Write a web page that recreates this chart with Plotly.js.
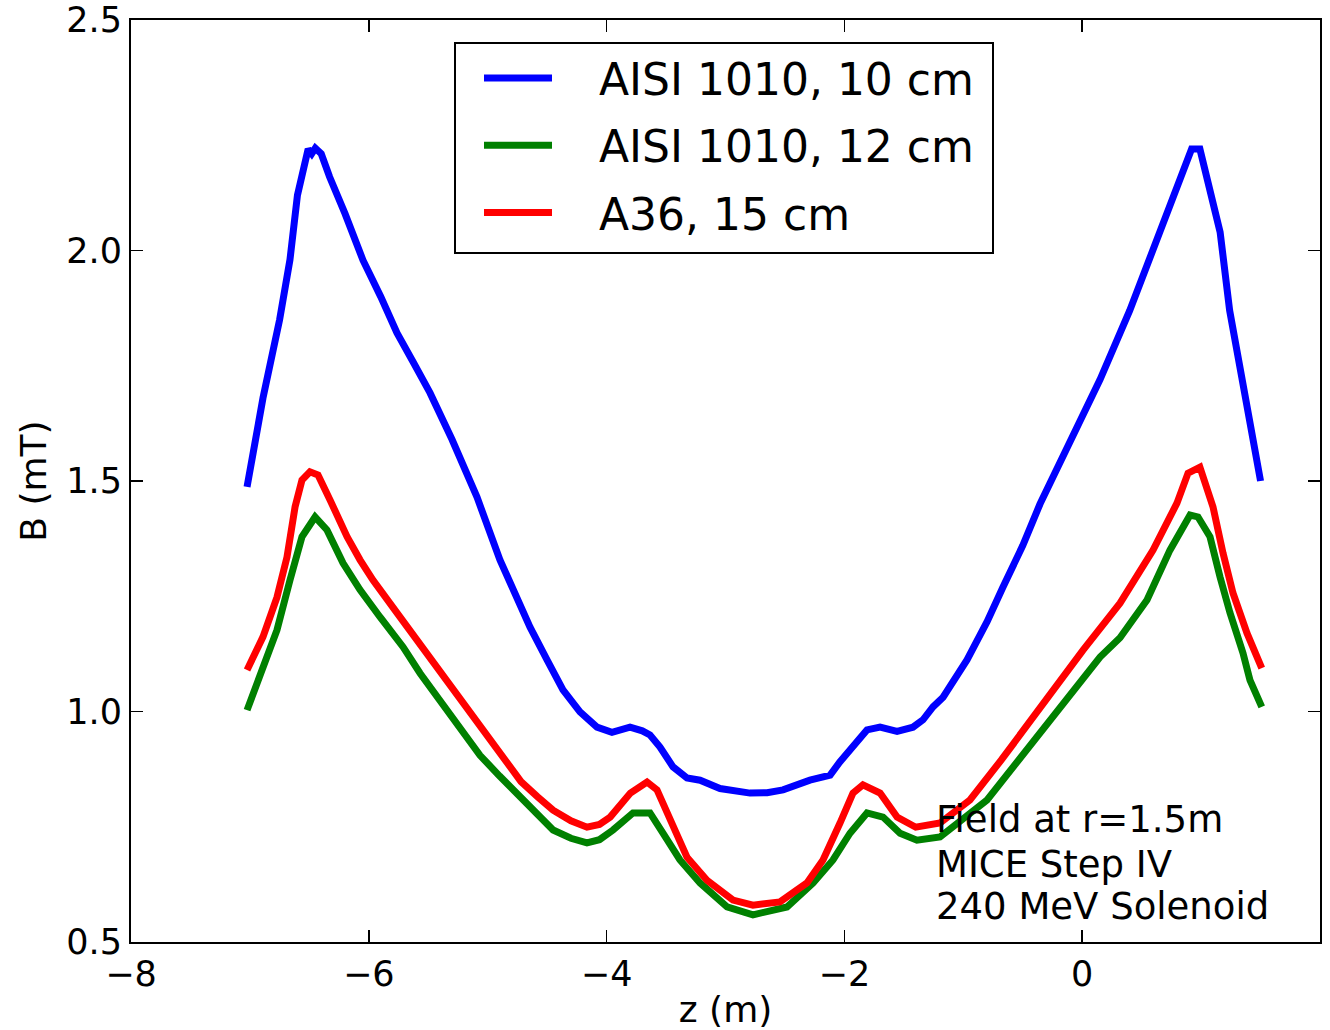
<!DOCTYPE html>
<html>
<head>
<meta charset="utf-8">
<script src="https://cdn.plot.ly/plotly-3.0.1.min.js"></script>
<style>html,body{margin:0;padding:0;background:#fff;}#chart{width:1330px;height:1030px;}</style>
</head>
<body>
<div id="chart"></div>
<script>
// Series: AISI 1010, 10 cm (blue)
const zBlue = [-7.024,-6.89,-6.75,-6.663,-6.60,-6.562,-6.51,-6.48,-6.45,-6.40,-6.33,-6.20,-6.049,-5.90,-5.763,-5.62,-5.485,-5.30,-5.09,-4.897,-4.787,-4.644,-4.501,-4.367,-4.224,-4.081,-3.955,-3.803,-3.70,-3.635,-3.551,-3.442,-3.324,-3.214,-3.046,-2.794,-2.65,-2.516,-2.29,-2.12,-2.04,-1.978,-1.81,-1.70,-1.557,-1.423,-1.339,-1.255,-1.17,-0.969,-0.80,-0.666,-0.50,-0.355,-0.10,0.15,0.40,0.66,0.82,0.92,0.99,1.07,1.16,1.24,1.37,1.50];
const bBlue = [1.487,1.68,1.85,1.98,2.12,2.17,2.22,2.21,2.222,2.21,2.16,2.08,1.979,1.90,1.821,1.755,1.691,1.59,1.465,1.329,1.264,1.183,1.112,1.047,0.999,0.966,0.955,0.966,0.958,0.949,0.923,0.880,0.856,0.851,0.833,0.823,0.824,0.830,0.851,0.862,0.89,0.910,0.960,0.966,0.957,0.966,0.982,1.010,1.031,1.112,1.195,1.27,1.36,1.45,1.59,1.72,1.87,2.04,2.15,2.22,2.22,2.14,2.04,1.87,1.68,1.50];
// Series: AISI 1010, 12 cm (green)
const zGreen = [-7.024,-6.915,-6.772,-6.663,-6.562,-6.452,-6.352,-6.217,-6.074,-5.906,-5.712,-5.569,-5.30,-5.065,-4.90,-4.728,-4.58,-4.45,-4.30,-4.165,-4.06,-3.946,-3.778,-3.635,-3.526,-3.383,-3.214,-2.987,-2.769,-2.483,-2.264,-2.096,-1.953,-1.81,-1.675,-1.532,-1.39,-1.196,-0.80,-0.271,0.15,0.318,0.545,0.738,0.907,0.974,1.075,1.159,1.243,1.352,1.411,1.51];
const bGreen = [1.003,1.075,1.177,1.285,1.379,1.422,1.394,1.322,1.264,1.205,1.140,1.083,0.99,0.905,0.86,0.815,0.775,0.743,0.725,0.715,0.722,0.743,0.780,0.780,0.736,0.678,0.628,0.576,0.559,0.576,0.628,0.678,0.736,0.780,0.771,0.736,0.721,0.728,0.808,0.982,1.118,1.16,1.242,1.350,1.426,1.422,1.379,1.292,1.214,1.127,1.068,1.01];
// Series: A36, 15 cm (red)
const zRed = [-7.024,-6.89,-6.772,-6.688,-6.62,-6.562,-6.495,-6.427,-6.326,-6.183,-6.074,-5.965,-5.763,-5.595,-5.401,-5.23,-5.065,-4.90,-4.72,-4.58,-4.45,-4.30,-4.165,-4.06,-3.97,-3.80,-3.66,-3.576,-3.467,-3.324,-3.156,-2.937,-2.769,-2.542,-2.315,-2.18,-2.037,-1.928,-1.844,-1.70,-1.557,-1.40,-1.196,-0.944,-0.68,-0.414,0.007,0.318,0.596,0.797,0.89,0.99,1.10,1.184,1.268,1.386,1.51];
const bRed = [1.09,1.162,1.248,1.335,1.444,1.502,1.52,1.513,1.459,1.379,1.329,1.285,1.214,1.155,1.083,1.025,0.966,0.905,0.848,0.815,0.786,0.763,0.749,0.755,0.771,0.823,0.847,0.830,0.765,0.684,0.634,0.591,0.580,0.587,0.628,0.678,0.758,0.823,0.841,0.823,0.771,0.749,0.758,0.808,0.895,0.988,1.133,1.235,1.350,1.452,1.517,1.530,1.444,1.344,1.257,1.170,1.094];

const seriesNames = ["AISI 1010, 10 cm","AISI 1010, 12 cm","A36, 15 cm"];
const seriesColors = ["#0000ff","#008000","#ff0000"];
const xTicks = [-8,-6,-4,-2,0,2];
const yTicks = [0.5,1.0,1.5,2.0,2.5];
const noteLines = ["Field at r=1.5m","MICE Step IV","240 MeV Solenoid"];
const noteY = [0.765,0.669,0.576];

const FONT = "DejaVu Sans";
const PAD = "\u00A0\u00A0\u00A0";
const xs = [zBlue,zGreen,zRed], ys = [bBlue,bGreen,bRed];
const traces = xs.map((x,i)=>({
  x:x, y:ys[i], type:'scatter', mode:'lines', name:PAD+seriesNames[i],
  legendgroup:'g'+i,
  line:{color:seriesColors[i], width:7, shape:'linear'}
}));

const axisCommon = {
  showline:true, linecolor:'#000', linewidth:2, mirror:'ticks',
  ticks:'inside', ticklen:12, tickwidth:1.5, tickcolor:'#000',
  showgrid:false, zeroline:false,
  tickfont:{family:FONT, size:35, color:'#000'}
};

// pixel -> paper helpers (plot area 131..1320 x 20..942)
const px = v => (v-131)/1189, py = v => (942-v)/922;

const layout = {
  width:1330, height:1030,
  margin:{l:131, r:10, t:20, b:88},
  paper_bgcolor:'#fff', plot_bgcolor:'#fff',
  showlegend:true,
  legend:{
    x:px(479), y:py(43), xanchor:'left', yanchor:'top',
    bgcolor:'rgba(0,0,0,0)', borderwidth:0,
    font:{family:FONT, size:44, color:'#000'},
    traceorder:'grouped', tracegroupgap:7, itemwidth:68
  },
  shapes:[{type:'rect', xref:'paper', yref:'paper', x0:px(455), x1:px(993), y0:py(253), y1:py(43),
    line:{color:'#000', width:2}, fillcolor:'#fff', layer:'below'}],
  xaxis:Object.assign({}, axisCommon, {
    range:[-8,2], tickvals:xTicks, ticktext:xTicks.map(v=>v<0?'\u2212'+Math.abs(v):String(v)),
    title:{text:'z (m)', font:{family:FONT, size:36, color:'#000'}, standoff:8}
  }),
  yaxis:Object.assign({}, axisCommon, {
    range:[0.5,2.5], tickvals:yTicks, ticktext:yTicks.map(v=>v.toFixed(1)),
    title:{text:'B (mT)', font:{family:FONT, size:36, color:'#000'}, standoff:9}
  }),
  annotations: noteLines.map((t,i)=>({
    text:t, xref:'x', yref:'y', x:-1.245, y:noteY[i], xanchor:'left', yanchor:'middle',
    showarrow:false, font:{family:FONT, size:37, color:'#000'}
  }))
};

Plotly.newPlot('chart', traces, layout, {displayModeBar:false, staticPlot:true});
</script>
</body>
</html>
